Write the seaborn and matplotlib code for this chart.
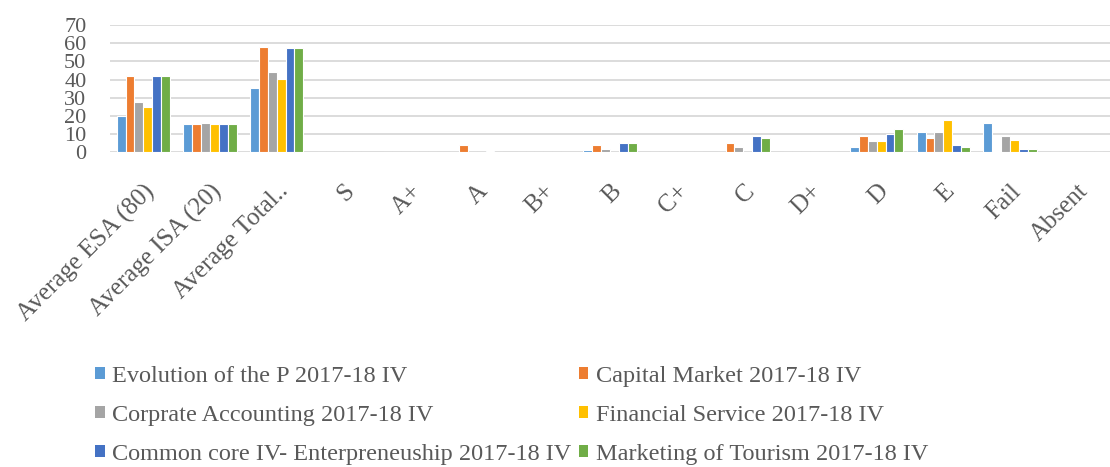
import matplotlib
matplotlib.use("Agg")
import matplotlib.pyplot as plt
import seaborn as sns
import pandas as pd
from matplotlib.patches import Patch

categories = ["Average ESA (80)", "Average ISA (20)", "Average Total..", "S", "A+", "A",
              "B+", "B", "C+", "C", "D+", "D", "E", "Fail", "Absent"]

series_names = ["Evolution of the P 2017-18 IV",
                "Capital Market 2017-18 IV",
                "Corprate Accounting 2017-18 IV",
                "Financial Service 2017-18 IV",
                "Common core IV- Enterpreneuship 2017-18 IV",
                "Marketing of Tourism 2017-18 IV"]

evolution = [20, 15.6, 35.6, 0, 0, 0, 0, 1, 0, 0, 0, 3, 11, 16, 0]
capital = [42, 15.6, 57.7, 0, 0, 4, 0, 4, 0, 5, 0, 9, 8, 0.7, 0]
corprate = [27.7, 15.9, 44, 0, 0, 0, 0, 2, 0, 3, 0, 6, 11, 9, 0]
financial = [24.7, 15.6, 40.5, 0, 0, 0, 0, 0, 0, 0, 0, 6, 18, 7, 0]
common = [42, 15.6, 57.5, 0, 0, 0.8, 0, 5, 0, 9, 0, 10, 4, 2, 0]
tourism = [42, 15.4, 57.5, 0, 0, 0, 0, 5, 0, 8, 0, 13, 3, 2, 0]

colors = ["#5B9BD5", "#ED7D31", "#A5A5A5", "#FFC000", "#4472C4", "#70AD47"]

all_values = [evolution, capital, corprate, financial, common, tourism]
rows = []
for name, vals in zip(series_names, all_values):
    for c, v in zip(categories, vals):
        rows.append({"category": c, "series": name, "value": v})
df = pd.DataFrame(rows)

sns.set_theme(style="white")
plt.rcParams["font.family"] = ["Liberation Serif", "DejaVu Serif"]

fig = plt.figure(figsize=(11.1, 4.67), dpi=100)
ax = fig.add_axes([110 / 1110, (467 - 152.3) / 467, 1000 / 1110, (152.3 - 25) / 467])

sns.barplot(data=df, x="category", y="value", hue="series", order=categories,
            hue_order=series_names, palette=colors, saturation=1, width=0.8, ax=ax,
            edgecolor="white", linewidth=0.8, legend=False, zorder=3)

ax.set_ylim(0, 70)
ax.set_xlim(-0.5, len(categories) - 0.5)
ax.set_yticks(range(0, 71, 10))
ax.yaxis.grid(True, color="#D9D9D9", linewidth=1.3, zorder=0)
ax.set_axisbelow(True)
for s in ax.spines.values():
    s.set_visible(False)
ax.set_xlabel("")
ax.set_ylabel("")
ax.tick_params(axis="y", labelsize=16, labelcolor="#595959", length=0, pad=17)
ax.tick_params(axis="x", labelsize=18, labelcolor="#595959", length=0, pad=20)
plt.setp(ax.get_xticklabels(), rotation=45, ha="right", rotation_mode="anchor")
for lbl in ax.get_yticklabels():
    lbl.set_horizontalalignment("right")

handles = [Patch(facecolor=c, edgecolor="none") for c in colors]
order = [0, 2, 4, 1, 3, 5]
fig.legend([handles[i] for i in order], [series_names[i] for i in order],
           loc="upper left", bbox_to_anchor=(95 / 1110, 1 - 366 / 467),
           ncol=2, frameon=False, fontsize=17.5, labelcolor="#595959",
           handlelength=0.4, handleheight=0.4, handletextpad=0.3,
           columnspacing=0.3, labelspacing=0.74, borderaxespad=0, borderpad=0)

fig.savefig("out.png", dpi=100)
